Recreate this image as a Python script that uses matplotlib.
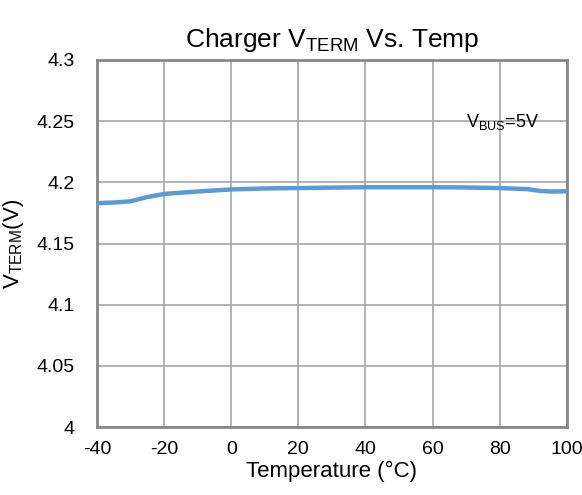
import matplotlib.pyplot as plt

plt.rcParams['font.family'] = ['Liberation Sans', 'DejaVu Sans']
plt.rcParams['mathtext.fontset'] = 'custom'
plt.rcParams['mathtext.rm'] = 'Liberation Sans'
plt.rcParams['mathtext.it'] = 'Liberation Sans'
plt.rcParams['axes.unicode_minus'] = False

# Charger termination voltage vs temperature
temp = [-40, -35, -30, -25, -20, -10, 0, 10, 20, 30, 40, 50, 60, 70, 80, 88, 92, 95, 100]
v_term = [4.183, 4.1835, 4.1845, 4.188, 4.1905, 4.1925, 4.1942, 4.1950, 4.1953, 4.1957,
          4.1960, 4.1960, 4.1960, 4.1958, 4.1953, 4.1945, 4.1930, 4.1925, 4.1927]

x_ticks = [-40, -20, 0, 20, 40, 60, 80, 100]
y_ticks = [4, 4.05, 4.1, 4.15, 4.2, 4.25, 4.3]
y_tick_labels = ['4', '4.05', '4.1', '4.15', '4.2', '4.25', '4.3']

fig = plt.figure(figsize=(5.82, 4.95), dpi=100)
ax = fig.add_axes([0.1667, 0.137, 0.807, 0.742])

ax.plot(temp, v_term, color='#5B9BD5', linewidth=3.2, solid_capstyle='round', zorder=3)

ax.set_xlim(-40, 100)
ax.set_ylim(4, 4.3)
ax.set_xticks(x_ticks)
ax.set_yticks(y_ticks)
ax.set_yticklabels(y_tick_labels)
ax.tick_params(length=0, labelsize=14)
ax.tick_params(axis='y', pad=16)
ax.tick_params(axis='x', pad=10)
ax.grid(True, color='#A6A6A6', linewidth=1.2)
for s in ax.spines.values():
    s.set_color('#868686')
    s.set_linewidth(2)

ax.set_title('Charger V$_{\\mathrm{TERM}}$ Vs. Temp', fontsize=19, pad=9)
ax.set_xlabel('Temperature (°C)', fontsize=16, labelpad=2)
ax.set_ylabel('V$_{\\mathrm{TERM}}$(V)', fontsize=16, labelpad=8)

ax.text(81, 4.249, 'V$_{\\mathrm{BUS}}$=5V', fontsize=13, ha='center', va='center')

fig.savefig('out.png')
